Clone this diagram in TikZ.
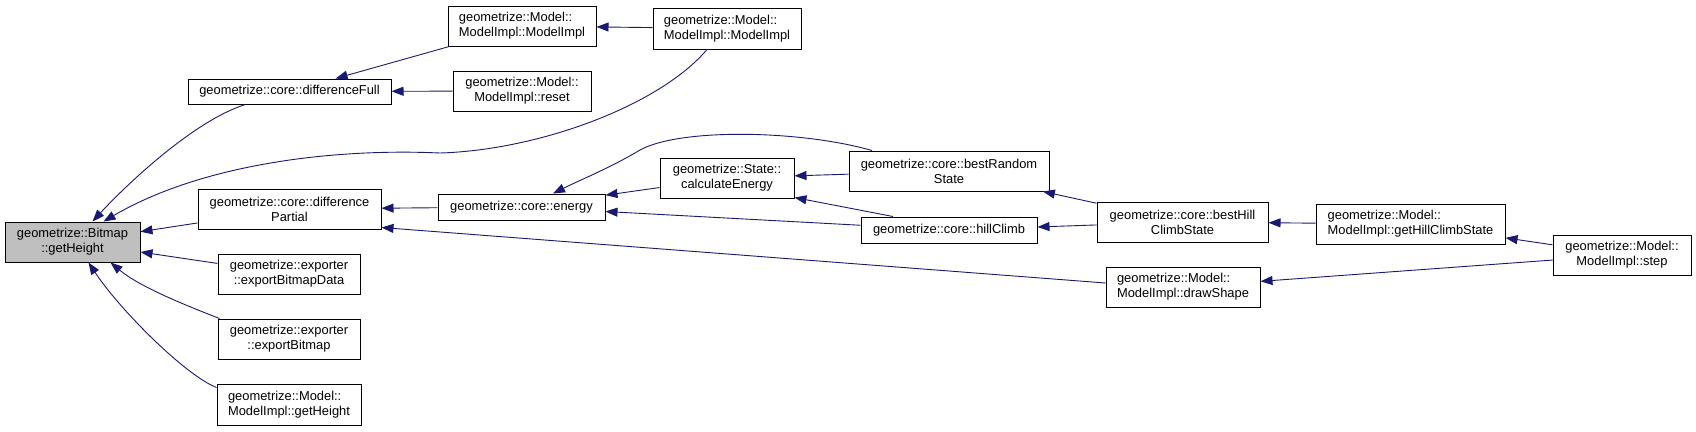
\documentclass[tikz,border=0pt]{standalone}
\usepackage{fontspec}
\setmainfont{Liberation Sans}
\usetikzlibrary{arrows.meta}
\definecolor{callblue}{HTML}{191970}
\definecolor{boxgray}{HTML}{BFBFBF}

\begin{document}
\begin{tikzpicture}[
    x=1pt, y=-1pt,
    fn/.style={rectangle, draw=black, line width=1pt, fill=#1, inner sep=0pt, align=center, font=\fontsize{12.9}{15}\selectfont},
    fn/.default=white,
    call/.style={-{Triangle[length=12pt,width=9pt]}, color=callblue, line width=0.9pt}
]
    \useasboundingbox (0,0) rectangle (1696,431);

    % Fonctions
    \node[fn=boxgray, minimum width=135pt, minimum height=40pt] (bmp_height) at (72.5,242) {geometrize::Bitmap\\::getHeight};
    \node[fn, minimum width=203pt, minimum height=25pt] (diff_full) at (289.5,91.5) {geometrize::core::differenceFull};
    \node[fn, minimum width=183pt, minimum height=40pt] (diff_partial) at (289.5,209) {geometrize::core::difference\\Partial};
    \node[fn, minimum width=142pt, minimum height=40pt] (export_data) at (289,274) {geometrize::exporter\\::exportBitmapData};
    \node[fn, minimum width=142pt, minimum height=40pt] (export_bmp) at (289,339) {geometrize::exporter\\::exportBitmap};
    \node[fn, align=left, minimum width=144pt, minimum height=41pt] (model_height) at (289,404.5) {geometrize::Model::\\ModelImpl::getHeight};
    \node[fn, align=left, minimum width=148pt, minimum height=40pt] (ctor_a) at (522,26) {geometrize::Model::\\ModelImpl::ModelImpl};
    \node[fn, align=left, minimum width=148pt, minimum height=41pt] (ctor_b) at (727,28.5) {geometrize::Model::\\ModelImpl::ModelImpl};
    \node[fn, minimum width=138pt, minimum height=40pt] (reset) at (522,91) {geometrize::Model::\\ModelImpl::reset};
    \node[fn, minimum width=167pt, minimum height=26pt] (energy) at (521.5,207) {geometrize::core::energy};
    \node[fn, minimum width=134pt, minimum height=40pt] (calc_energy) at (727,178) {geometrize::State::\\calculateEnergy};
    \node[fn, minimum width=200pt, minimum height=40pt] (best_random) at (949,171) {geometrize::core::bestRandom\\State};
    \node[fn, minimum width=176pt, minimum height=26pt] (hill_climb) at (949,230) {geometrize::core::hillClimb};
    \node[fn, minimum width=171pt, minimum height=40pt] (best_hill) at (1182.5,222) {geometrize::core::bestHill\\ClimbState};
    \node[fn, align=left, minimum width=154pt, minimum height=40pt] (draw_shape) at (1183,287) {geometrize::Model::\\ModelImpl::drawShape};
    \node[fn, align=left, minimum width=189pt, minimum height=40pt] (hill_state) at (1410.5,224) {geometrize::Model::\\ModelImpl::getHillClimbState};
    \node[fn, minimum width=138pt, minimum height=40pt] (step_fn) at (1622,255) {geometrize::Model::\\ModelImpl::step};

    % Appels
    \draw[call] ([xshift=-44pt]diff_full.south) .. controls (195,120) and (127,184) .. ([xshift=20pt]bmp_height.north);
    \draw[call] ([xshift=-20pt]ctor_b.south) .. controls (660,105) and (540,150) .. (440,153) .. controls (330,148) and (200,165) .. ([xshift=31pt]bmp_height.north);
    \draw[call] (diff_partial) -- (bmp_height);
    \draw[call] (export_data) -- (bmp_height);
    \draw[call] ([xshift=2pt]export_bmp.north west) .. controls (185,305) and (140,287) .. ([xshift=38pt]bmp_height.south);
    \draw[call] ([yshift=17pt]model_height.west) .. controls (185,375) and (120,310) .. ([xshift=16pt]bmp_height.south);
    \draw[call] (ctor_a) -- (diff_full);
    \draw[call] (reset) -- (diff_full);
    \draw[call] (ctor_b) -- (ctor_a);
    \draw[call] (energy) -- (diff_partial);
    \draw[call] ([yshift=4pt]draw_shape.west) -- ([yshift=2pt]diff_partial.south east);
    \draw[call] (calc_energy) -- (energy);
    \draw[call] ([xshift=-77pt]best_random.north) .. controls (800,130) and (680,128) .. (640,150) .. controls (610,168) and (580,180) .. ([xshift=31.5pt]energy.north);
    \draw[call] (hill_climb) -- (energy);
    \draw[call] (best_random) -- (calc_energy);
    \draw[call] ([xshift=-56pt]hill_climb.north) -- ([yshift=1pt]calc_energy.south east);
    \draw[call] (best_hill) -- (best_random);
    \draw[call] (best_hill) -- (hill_climb);
    \draw[call] (hill_state) -- (best_hill);
    \draw[call] (step_fn) -- (hill_state);
    \draw[call] (step_fn) -- (draw_shape);

\end{tikzpicture}
\end{document}
